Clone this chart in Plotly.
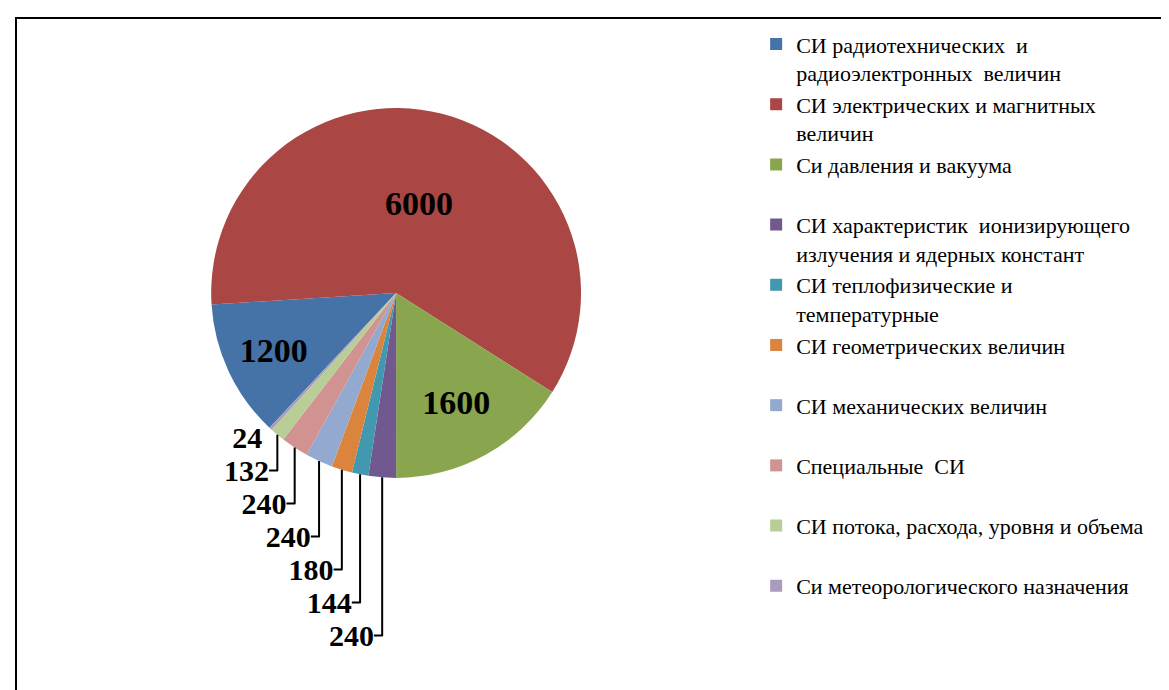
import plotly.graph_objects as go

categories = [
    "СИ радиотехнических  и<br>радиоэлектронных  величин",
    "СИ электрических и магнитных<br>величин",
    "Си давления и вакуума<br> ",
    "СИ характеристик  ионизирующего<br>излучения и ядерных констант",
    "СИ теплофизические и<br>температурные",
    "СИ геометрических величин<br> ",
    "СИ механических величин<br> ",
    "Специальные  СИ<br> ",
    "СИ потока, расхода, уровня и объема<br> ",
    "Си метеорологического назначения<br> ",
]
values = [1200, 6000, 1600, 240, 144, 180, 240, 240, 132, 24]
colors = ["#4572A7", "#AA4643", "#89A54E", "#71588F", "#4198AF",
          "#DB843D", "#93A9CF", "#D19392", "#B9CD96", "#A99BBD"]
label_positions = ["inside", "inside", "inside", "outside", "outside",
                   "outside", "outside", "outside", "outside", "outside"]

fig = go.Figure()
fig.add_trace(go.Pie(
    labels=categories,
    values=values,
    sort=False,
    direction="clockwise",
    rotation=-136.8,
    marker=dict(colors=colors, line=dict(color="white", width=0)),
    textinfo="value",
    textposition=label_positions,
    insidetextorientation="horizontal",
    insidetextfont=dict(family="Liberation Serif", size=34, color="black", weight="bold"),
    outsidetextfont=dict(family="Liberation Serif", size=30, color="black", weight="bold"),
    domain=dict(x=[0.0, 0.664], y=[0.319, 0.855]),
    showlegend=True,
    hoverinfo="label+value",
))

fig.update_layout(
    width=1169,
    height=690,
    margin=dict(l=0, r=0, t=0, b=0, autoexpand=False),
    paper_bgcolor="white",
    plot_bgcolor="white",
    font=dict(family="Liberation Serif", color="black"),
    legend=dict(
        x=0.64, y=0.978, xanchor="left", yanchor="top",
        font=dict(family="Liberation Serif", size=22, color="black"),
        valign="top",
        itemwidth=30,
        bgcolor="rgba(0,0,0,0)",
    ),
    shapes=[dict(
        type="rect", xref="paper", yref="paper",
        x0=8 / 1169, x1=1.01, y0=-0.01, y1=1 - 10 / 690,
        line=dict(color="black", width=2), fillcolor="rgba(0,0,0,0)",
    )],
)

fig.write_html("out.html")
